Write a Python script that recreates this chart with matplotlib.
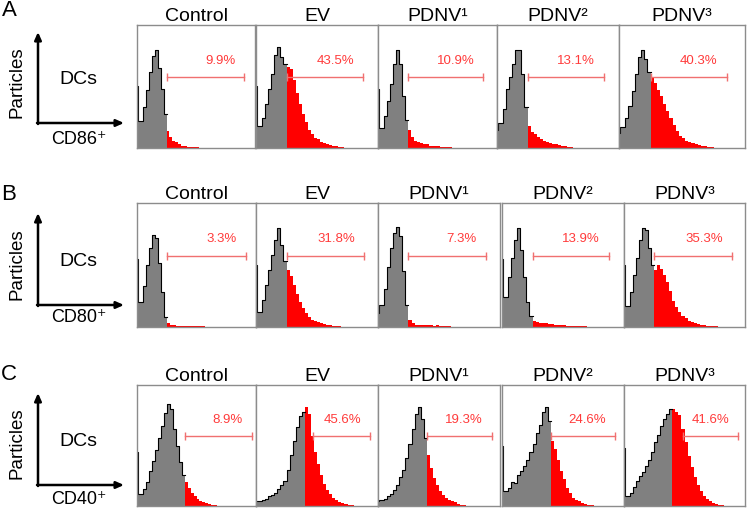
import numpy as np
import matplotlib
matplotlib.use("Agg")
import matplotlib.pyplot as plt

plt.rcParams['font.family'] = ['Liberation Sans', 'DejaVu Sans']

# column titles and row markers
titles = ["Control", "EV", "PDNV¹", "PDNV²", "PDNV³"]
row_letters = ["A", "B", "C"]
row_markers = ["CD86⁺", "CD80⁺", "CD40⁺"]

# histogram heights (% of panel height), 40 channels per panel
# channel 0 is the narrow pile-up channel at the left edge
cd86_control = [50, 22, 33, 47, 62, 75, 80, 65, 48, 28, 14, 9, 6, 5, 3, 2, 2, 1, 1, 1, 0.5]
cd86_ev = [50, 18, 24, 36, 48, 60, 76, 82, 74, 68, 66, 64, 55, 45, 36, 28, 21, 15, 11, 8,
           7, 5, 4, 3, 2.5, 2, 1.5, 1, 0.5]
cd86_pdnv1 = [48, 16, 26, 38, 52, 68, 80, 68, 42, 23, 15, 9, 6, 5, 4, 3, 3, 2, 2, 1.5,
              1.5, 1, 1, 0.5, 0.5]
cd86_pdnv2 = [15, 20, 32, 48, 58, 68, 80, 80, 60, 33, 18, 13, 11, 9, 7, 6, 5, 4, 3.5, 3,
              2.5, 2, 1.5, 1, 0.5]
cd86_pdnv3 = [12, 17, 24, 34, 46, 60, 74, 80, 72, 62, 58, 53, 47, 42, 36, 30, 24, 19, 14, 10,
              8, 6, 5, 4, 3, 2.5, 2, 1.5, 1, 0.5]

cd80_control = [55, 20, 33, 50, 64, 74, 72, 52, 28, 8, 3, 2, 1.5, 1, 1, 1, 0.5, 0.5, 0.5, 0.5,
                0.5, 0.5, 0.5]
cd80_ev = [50, 12, 22, 34, 46, 58, 70, 80, 66, 53, 46, 41, 34, 27, 20, 15, 11, 8, 6, 5,
           4, 3, 2.5, 2, 1.5, 1, 1, 0.5]
cd80_pdnv1 = [11, 18, 31, 48, 64, 76, 81, 73, 45, 18, 6, 3, 2, 2, 1.5, 1.5, 1.5, 1.5, 1, 1.5,
              1, 1, 0.5, 0.5]
cd80_pdnv2 = [55, 24, 40, 56, 70, 80, 62, 40, 20, 9, 5, 4, 3.5, 3, 3, 2.5, 2.5, 2, 2, 1.5,
              1.5, 1, 1, 1, 0.5, 0.5, 0.5, 0.5]
cd80_pdnv3 = [50, 17, 28, 42, 56, 70, 80, 78, 64, 50, 46, 50, 47, 42, 36, 29, 21, 16, 12, 9,
              7, 5, 4, 3, 2.5, 2, 1.5, 1, 1, 0.5, 0.5]

cd40_control = [45, 10, 14, 20, 29, 37, 46, 56, 66, 77, 84, 80, 64, 50, 36, 26, 20, 15, 11, 8,
                6, 4.5, 3.5, 2.5, 2, 1, 0.5]
cd40_ev = [4, 4, 5, 6, 8, 9, 11, 14, 17, 21, 30, 42, 54, 65, 74, 78, 82, 76, 58, 45,
           35, 26, 18, 13, 10, 7, 5, 3.5, 2.5, 1.5, 1, 0.5]
cd40_pdnv1 = [4, 5, 6, 8, 10, 13, 17, 24, 30, 40, 51, 64, 76, 82, 72, 56, 42, 31, 23, 17,
              12, 9, 7, 5, 4, 3, 2, 1, 0.5]
cd40_pdnv2 = [50, 12, 15, 20, 19, 26, 29, 33, 38, 45, 51, 60, 67, 78, 82, 70, 54, 47, 38, 29,
              22, 15, 11, 7, 5, 4, 2.5, 1.5, 1, 0.5]
cd40_pdnv3 = [48, 8, 11, 16, 21, 25, 28, 33, 38, 45, 53, 59, 66, 72, 76, 80, 80, 78, 75, 64,
              53, 41, 32, 24, 17, 12, 8, 6, 4, 2.5, 1.5, 1, 0.5]

# positive fraction per panel
cd86_pct = [9.9, 43.5, 10.9, 13.1, 40.3]
cd80_pct = [3.3, 31.8, 7.3, 13.9, 35.3]
cd40_pct = [8.9, 45.6, 19.3, 24.6, 41.6]

# gate channel (start of red) and marker bar span, in channels
gates = [10, 10, 16]
bar_starts = [[10, 10, 10, 10, 10], [10, 10, 10, 10, 10], [16, 18.7, 16, 16, 19.6]]
bar_ends = [[36.3, 35.1, 35.4, 35.1, 34.3], [36.6, 35.4, 35.4, 35.1, 35.6],
            [38.6, 37.4, 37.4, 37.0, 37.7]]

rows_hist = [
    [cd86_control, cd86_ev, cd86_pdnv1, cd86_pdnv2, cd86_pdnv3],
    [cd80_control, cd80_ev, cd80_pdnv1, cd80_pdnv2, cd80_pdnv3],
    [cd40_control, cd40_ev, cd40_pdnv1, cd40_pdnv2, cd40_pdnv3],
]
rows_pct = [cd86_pct, cd80_pct, cd40_pct]

W, H = 749, 508
fig = plt.figure(figsize=(W / 100, H / 100), dpi=100)

# panel boxes in pixels
row_tops = [25, 203, 385]
row_bottoms = [148, 327, 506]
lefts = [[137, 256, 378, 497, 619], [137, 256, 378, 502, 624], [137, 256, 378, 502, 624]]
rights = [[255, 378, 497, 619, 745], [256, 378, 500, 624, 745], [256, 378, 500, 624, 745]]

n_ch = 40
gray = "#808080"
red = "#ff0000"

# bin edges: first channel is narrow
edges = np.arange(n_ch + 1, dtype=float)
edges[1] = 0.3

for r in range(3):
    for c in range(5):
        l, rr = lefts[r][c], rights[r][c]
        t, b = row_tops[r], row_bottoms[r]
        ax = fig.add_axes([l / W, 1 - b / H, (rr - l) / W, (b - t) / H])
        vals = np.zeros(n_ch)
        h = rows_hist[r][c]
        vals[:len(h)] = h
        g = gates[r]

        ax.stairs(vals[:g], edges[:g + 1], fill=True, color=gray, lw=0)
        ax.stairs(vals[g:], edges[g:], fill=True, color=red, lw=0)
        # black outline on the negative part
        xs = np.repeat(edges[:g + 1], 2)[1:-1]
        ys = np.repeat(vals[:g], 2)
        ax.plot(xs, ys, color="black", lw=0.8)

        # gate marker
        ax.plot([bar_starts[r][c], bar_ends[r][c]], [57.5, 57.5], color="#f07070", lw=1.0,
                marker="|", markersize=6, markeredgewidth=1.0)
        ax.text(bar_ends[r][c] - 3, 71, f"{rows_pct[r][c]}%", color="#ff3b3b",
                fontsize=9.5, ha="right", va="center")

        ax.set_xlim(0, n_ch)
        ax.set_ylim(0, 100)
        ax.set_xticks([])
        ax.set_yticks([])
        for s in ax.spines.values():
            s.set_color("#8c8c8c")
            s.set_linewidth(1.0)
        ax.set_title(titles[c], fontsize=14, pad=3)

# left-hand labels drawn in pixel space
ax0 = fig.add_axes([0, 0, 1, 1], zorder=-1)
ax0.set_xlim(0, W)
ax0.set_ylim(H, 0)
ax0.axis("off")

letter_y = [11, 194, 374]
arrow_tops = [32, 213, 393]
corners = [123, 305, 485]
part_y = [82, 264, 443]
dcs_y = [80, 262, 442]
marker_y = [140, 317, 499]

for r in range(3):
    ax0.text(9, letter_y[r], row_letters[r], fontsize=16, ha="center", va="center")
    ax0.annotate("", xy=(38, arrow_tops[r]), xytext=(38, corners[r] + 1),
                 arrowprops=dict(arrowstyle="-|>,head_length=0.45,head_width=0.2",
                                 color="black", lw=1.8, shrinkA=0, shrinkB=0))
    ax0.annotate("", xy=(124, corners[r]), xytext=(37, corners[r]),
                 arrowprops=dict(arrowstyle="-|>,head_length=0.45,head_width=0.2",
                                 color="black", lw=1.8, shrinkA=0, shrinkB=0))
    ax0.text(17, part_y[r], "Particles", fontsize=13.5, rotation=90,
             ha="center", va="center")
    ax0.text(78, dcs_y[r], "DCs", fontsize=14, ha="center", va="center")
    ax0.text(79, marker_y[r], row_markers[r], fontsize=13, ha="center", va="center")

fig.savefig("out.png", dpi=100)
